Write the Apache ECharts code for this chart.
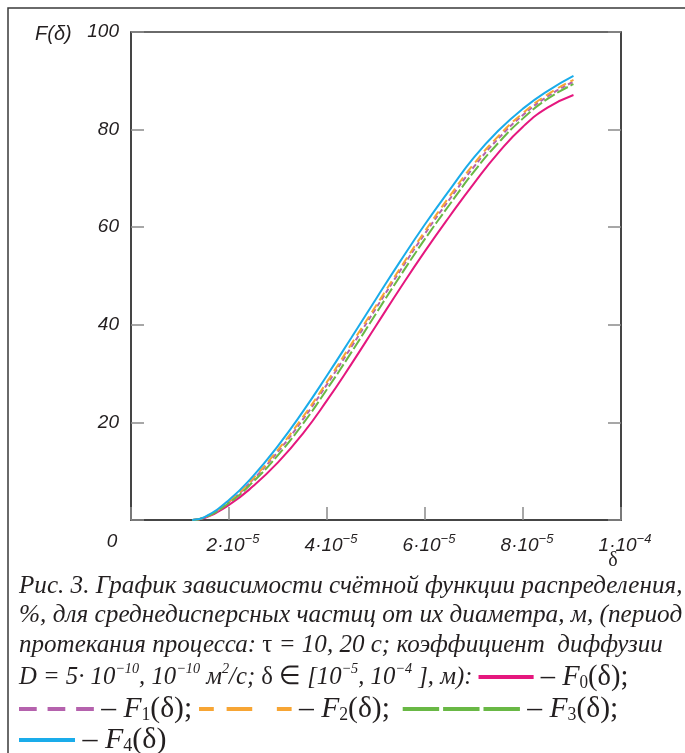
<!DOCTYPE html>
<html>
<head>
<meta charset="utf-8">
<script src="https://cdn.jsdelivr.net/npm/echarts@6/dist/echarts.min.js"></script>
<style>
html,body{margin:0;padding:0;background:#fff;}
#chart{width:685px;height:753px;}
</style>
</head>
<body>
<div id="chart"></div>
<script>
// ---- data (δ in metres, F in %) ----
const delta = [1.25e-5, 1.5e-5, 2e-5, 2.5e-5, 3e-5, 3.5e-5, 4e-5, 4.5e-5, 5e-5, 5.5e-5, 6e-5, 6.5e-5, 7e-5, 7.5e-5, 8e-5, 8.5e-5, 9.03e-5];
const F0 = [0, 0.4, 3.1, 7.0, 11.8, 17.6, 24.5, 32.0, 39.8, 47.6, 55.1, 62.2, 69.0, 75.3, 80.6, 84.5, 87.1];
const F1 = [0, 0.5, 3.7, 8.4, 14.0, 20.5, 27.8, 35.5, 43.4, 51.2, 58.7, 65.7, 72.4, 78.2, 83.0, 86.8, 89.8];
const F2 = [0, 0.5, 3.8, 8.6, 14.4, 21.0, 28.3, 36.1, 43.9, 51.7, 59.2, 66.3, 73.0, 78.7, 83.4, 87.2, 90.2];
const F3 = [0, 0.5, 3.5, 7.9, 13.3, 19.6, 26.8, 34.4, 42.3, 50.1, 57.6, 64.6, 71.4, 77.3, 82.3, 86.3, 89.3];
const F4 = [0, 0.6, 4.1, 9.1, 15.2, 22.1, 29.6, 37.4, 45.3, 53.1, 60.6, 67.6, 74.3, 79.8, 84.3, 87.9, 91.0];

const seriesNames = ['F0', 'F1', 'F2', 'F3', 'F4'];
const xTickMant = ['0', '2', '4', '6', '8', '1'];
const xTickExp = ['', '−5', '−5', '−5', '−5', '−4'];
const yTickLabels = ['', '20', '40', '60', '80', '100'];

const captionLines = [
  'Рис. 3. График зависимости счётной функции распределения,',
  '%, для среднедисперсных частиц от их диаметра, м, (период',
  'протекания процесса: {r|τ} = 10, 20 с; коэффициент  диффузии',
  'D = 5· 10{sup|−10}, 10{sup|−10} м{sup|2}/с; {r|δ ∈} [10{sup|−5}, 10{sup|−4} ], м): {c0| }{f| – F}{sub|0}{rb|(δ);}',
  '{c1| }{g1| }{c1| }{g1| }{c1| }{f| – F}{sub|1}{rb|(δ);}{gs| }{c2s| }{g2a| }{c2l| }{g2b| }{c2s| }{f| – F}{sub|2}{rb|(δ);}{gm| }{c3| }{g3| }{c3| }{g3| }{c3| }{f| – F}{sub|3}{rb|(δ);}',
  '{c4| }{f| – F}{sub|4}{rb|(δ)}'
];

const colors = ['#e5177e', '#b562ad', '#f7a534', '#69b845', '#1aacea'];
const dashes = ['solid', [5, 3], [9, 5], [12, 3], 'solid'];

const chart = echarts.init(document.getElementById('chart'));
const allF = [F0, F1, F2, F3, F4];

const series = allF.map((F, i) => ({
  name: seriesNames[i],
  type: 'line',
  smooth: true,
  showSymbol: false,
  symbol: 'none',
  data: delta.map((d, j) => [d, F[j]]),
  lineStyle: { color: colors[i], width: 2, type: dashes[i] },
  z: 3
}));

const txtColor = '#231f20';
const SERIF = 'Liberation Serif';
function box(w, c) { return { width: w, height: 4, lineHeight: 30, backgroundColor: c || 'transparent', verticalAlign: 'middle' }; }
const capRich = {
  r: { fontStyle: 'normal', fontFamily: SERIF, fontSize: 26, fill: txtColor, lineHeight: 30 },
  f: { fontStyle: 'italic', fontFamily: SERIF, fontSize: 30, fill: txtColor, lineHeight: 30 },
  rb: { fontStyle: 'normal', fontFamily: SERIF, fontSize: 30, fill: txtColor, lineHeight: 30 },
  sup: { fontStyle: 'italic', fontFamily: SERIF, fontSize: 15, fill: txtColor, verticalAlign: 'top', lineHeight: 14 },
  sub: { fontStyle: 'normal', fontFamily: SERIF, fontSize: 18, fill: txtColor, verticalAlign: 'bottom', lineHeight: 14 },
  c0: box(58, colors[0]),
  c1: box(18, colors[1]), g1: box(11),
  gs: box(7), gm: box(13),
  c2s: box(15, colors[2]), c2l: box(26, colors[2]), g2a: box(13), g2b: box(25),
  c3: box(37, colors[3]), g3: box(4),
  c4: box(56, colors[4])
};
const capY = [586, 615, 645, 677, 709, 740];
const capScale = [0.966, 0.972, 0.963, 0.95, 0.985, 1];

const graphics = [
  { type: 'rect', shape: { x: 8, y: 8, width: 720, height: 800 }, style: { fill: 'none', stroke: '#3a3a3a', lineWidth: 1.5 }, silent: true },
  { type: 'text', x: 35, y: 34, style: { text: 'F(δ)', font: 'italic 20px "Liberation Sans"', fill: txtColor, verticalAlign: 'middle' } },
  { type: 'text', x: 112, y: 542, style: { text: '0', font: 'italic 19px "Liberation Sans"', fill: txtColor, align: 'center', verticalAlign: 'middle' } },
  { type: 'text', x: 613, y: 561, style: { text: 'δ', font: '20px "Liberation Serif"', fill: txtColor, align: 'center', verticalAlign: 'middle' } }
];
captionLines.forEach((t, i) => {
  graphics.push({
    type: 'text', x: 19, y: capY[i], scaleX: capScale[i], originX: 0,
    style: { text: t, font: 'italic 26px "Liberation Serif"', fill: txtColor, verticalAlign: 'middle', rich: capRich, lineHeight: 30 }
  });
});

const axisLineStyle = { color: '#3a3a3a', width: 1.5 };
const tickStyle = { color: '#8a8a8a', width: 1.5 };

chart.setOption({
  animation: false,
  backgroundColor: '#fff',
  grid: { left: 131, top: 32, width: 490, height: 488, show: true, borderColor: '#3a3a3a', borderWidth: 1.5, containLabel: false },
  xAxis: {
    type: 'value', min: 0, max: 1e-4, interval: 2e-5,
    axisLine: { show: true, lineStyle: axisLineStyle },
    axisTick: { show: true, inside: true, length: 13, lineStyle: tickStyle },
    splitLine: { show: false },
    axisLabel: {
      margin: 13,
      formatter: function (v) {
        const i = Math.round(v / 2e-5);
        if (i === 0) return '';
        return '{m|' + xTickMant[i] + '·10}{s|' + xTickExp[i] + '}';
      },
      rich: {
        m: { fontFamily: 'Liberation Sans', fontStyle: 'italic', fontSize: 19, color: txtColor, lineHeight: 22, verticalAlign: 'bottom', padding: [0, 0, 0, 8] },
        s: { fontFamily: 'Liberation Sans', fontStyle: 'italic', fontSize: 13, color: txtColor, lineHeight: 12, verticalAlign: 'top' }
      }
    }
  },
  yAxis: [{
    type: 'value', min: 0, max: 100, interval: 20, position: 'left',
    axisLine: { show: true, lineStyle: axisLineStyle },
    axisTick: { show: true, inside: true, length: 13, lineStyle: tickStyle },
    splitLine: { show: false },
    axisLabel: {
      margin: 12, fontFamily: 'Liberation Sans', fontStyle: 'italic', fontSize: 19, color: txtColor,
      formatter: function (v) { return yTickLabels[Math.round(v / 20)]; }
    }
  }, {
    type: 'value', min: 0, max: 100, interval: 20, position: 'right',
    axisLine: { show: true, lineStyle: axisLineStyle },
    axisTick: { show: true, inside: true, length: 13, lineStyle: tickStyle },
    splitLine: { show: false },
    axisLabel: { show: false }
  }],
  series: series,
  graphic: graphics
});
</script>
</body>
</html>
